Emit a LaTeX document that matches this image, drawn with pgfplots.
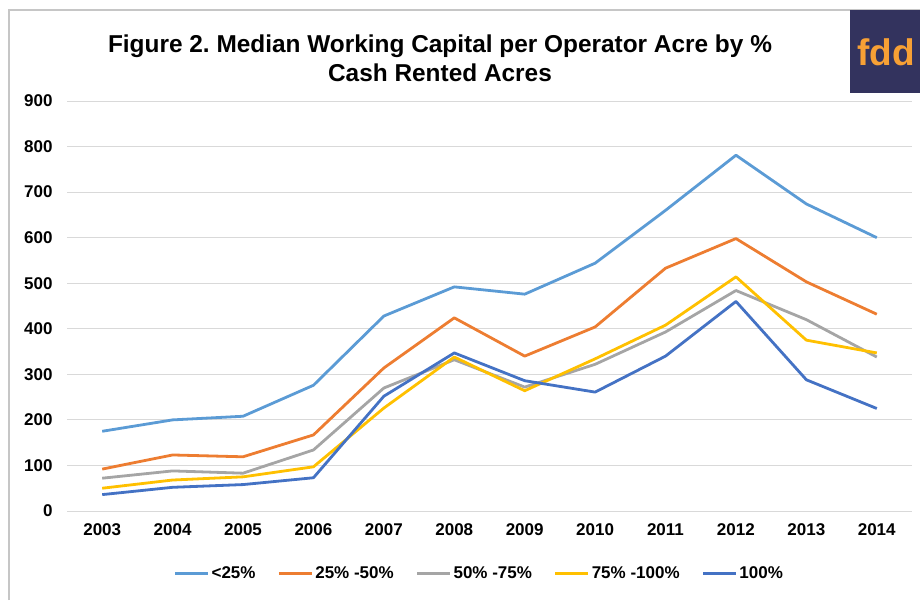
\documentclass[border=0pt]{standalone}
\usepackage{pgfplots}
\pgfplotsset{compat=1.18}
\usepackage{fontspec}
\setmainfont{Liberation Sans}
\frenchspacing
\definecolor{c1}{HTML}{5B9BD5}
\definecolor{c2}{HTML}{ED7D31}
\definecolor{c3}{HTML}{A5A5A5}
\definecolor{c4}{HTML}{FFC000}
\definecolor{c5}{HTML}{4472C4}
\definecolor{gridc}{HTML}{D9D9D9}
\definecolor{logobg}{HTML}{33335E}
\definecolor{logofg}{HTML}{F7A035}
\begin{document}
\begin{tikzpicture}
\useasboundingbox (0pt,0pt) rectangle (920pt,600pt);
\draw[gray!45, line width=1.2pt] (9pt,0pt) -- (9pt,590pt) -- (920pt,590pt);
\begin{scope}
\clip (850pt,507pt) rectangle (920pt,590pt);
\fill[logobg] (850pt,507pt) rectangle (920pt,590pt);
\node[anchor=base west, inner sep=0pt, font=\fontsize{37}{37}\selectfont\bfseries, text=logofg] at (857pt,534pt) {fdd};
\end{scope}
\node[anchor=base, align=center, font=\fontsize{24.4}{29}\selectfont\bfseries] at (440pt,518pt) {Figure 2. Median Working Capital per Operator Acre by \%\\Cash Rented Acres};
\begin{axis}[
  at={(67pt,89pt)}, anchor=south west,
  scale only axis, width=845pt, height=410pt,
  xmin=2002.5, xmax=2014.5, ymin=0, ymax=900,
  xtick={2003,...,2014},
  xticklabel style={/pgf/number format/1000 sep={}},
  ytick={0,100,...,900},
  ymajorgrids, grid style={gridc, line width=0.8pt},
  axis line style={draw=none},
  axis x line*=bottom, axis y line*=left,
  major tick length=0pt,
  tick label style={font=\fontsize{17}{17}\selectfont\bfseries},
  /pgf/number format/assume math mode=true,
  xticklabel style={yshift=-9pt},
  yticklabel style={xshift=-11pt},
  every axis plot/.append style={line width=2.8pt, line join=round, no markers},
  legend style={at={(0.488,-0.126)}, anchor=north, draw=none, legend columns=5,
    font=\fontsize{17}{17}\selectfont\bfseries,
    /tikz/every even column/.append style={column sep=20pt}},
  legend image code/.code={\draw[#1] (0pt,0pt) -- (33pt,0pt);},
]
\addplot[c1] coordinates {(2003,175)(2004,200)(2005,208)(2006,276)(2007,428)(2008,492)(2009,476)(2010,544)(2011,660)(2012,781)(2013,674)(2014,600)};
\addlegendentry{<25\%}
\addplot[c2] coordinates {(2003,92)(2004,123)(2005,119)(2006,167)(2007,314)(2008,424)(2009,340)(2010,404)(2011,533)(2012,598)(2013,503)(2014,432)};
\addlegendentry{25\% -50\%}
\addplot[c3] coordinates {(2003,72)(2004,88)(2005,83)(2006,134)(2007,270)(2008,332)(2009,272)(2010,322)(2011,393)(2012,484)(2013,420)(2014,338)};
\addlegendentry{50\% -75\%}
\addplot[c4] coordinates {(2003,50)(2004,68)(2005,75)(2006,97)(2007,226)(2008,338)(2009,264)(2010,334)(2011,408)(2012,514)(2013,375)(2014,347)};
\addlegendentry{75\% -100\%}
\addplot[c5] coordinates {(2003,36)(2004,52)(2005,58)(2006,73)(2007,252)(2008,347)(2009,286)(2010,261)(2011,340)(2012,460)(2013,288)(2014,225)};
\addlegendentry{100\%}
\end{axis}
\end{tikzpicture}
\end{document}
